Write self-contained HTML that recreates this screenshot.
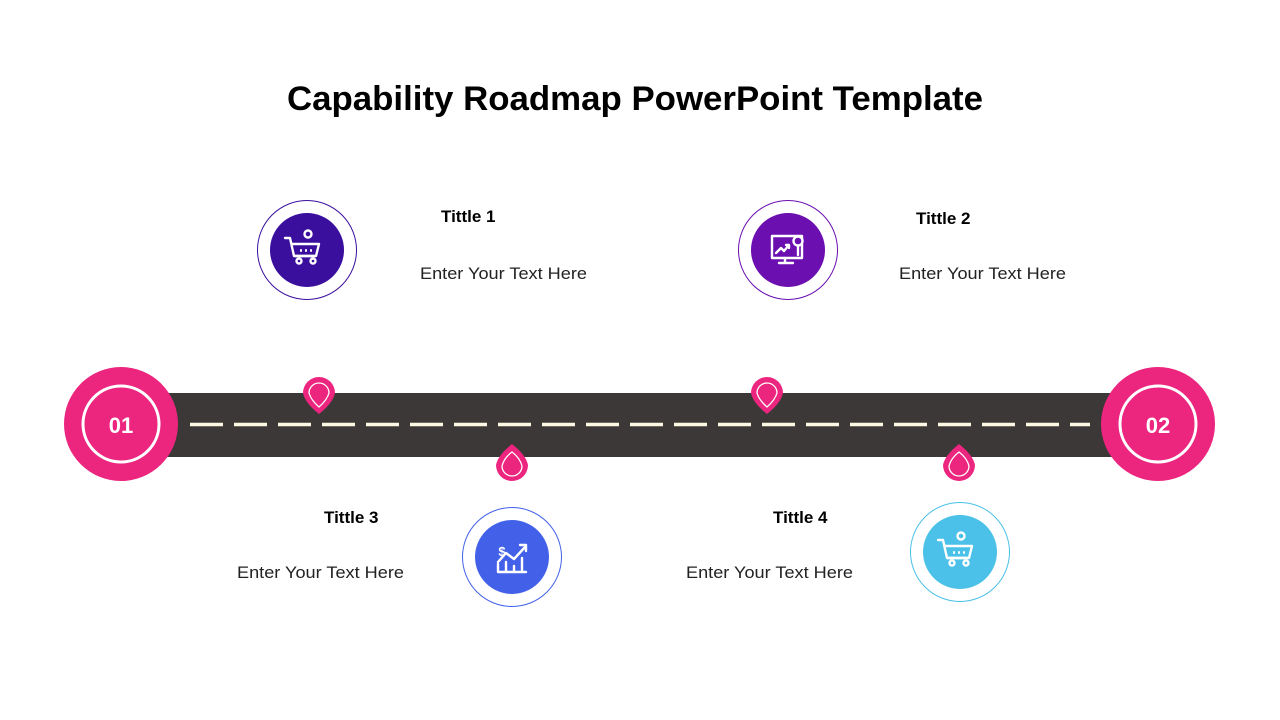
<!DOCTYPE html>
<html><head><meta charset="utf-8"><style>
html,body{margin:0;padding:0;background:#fff;}
svg{display:block;}
</style></head><body>
<svg width="1280" height="720" viewBox="0 0 1280 720" xmlns="http://www.w3.org/2000/svg" font-family="Liberation Sans, sans-serif">
<defs>
<clipPath id="dc"><rect x="185" y="410" width="905" height="30"/></clipPath>
</defs>
<text x="635" y="110" text-anchor="middle" font-size="34" font-weight="bold" fill="#000" textLength="696" lengthAdjust="spacingAndGlyphs">Capability Roadmap PowerPoint Template</text>

<rect x="160" y="393" width="960" height="64" fill="#3b3837"/>
<g clip-path="url(#dc)">
<line x1="190" y1="424.5" x2="1110" y2="424.5" stroke="#fdf8e4" stroke-width="3.5" stroke-dasharray="33 11"/>
</g>

<circle cx="121" cy="424" r="57" fill="#ec257f"/>
<circle cx="121" cy="424" r="38" fill="none" stroke="#fff" stroke-width="3"/>
<text x="121" y="433" text-anchor="middle" font-size="22" font-weight="bold" fill="#fff">01</text>
<circle cx="1158" cy="424" r="57" fill="#ec257f"/>
<circle cx="1158" cy="424" r="38" fill="none" stroke="#fff" stroke-width="3"/>
<text x="1158" y="433" text-anchor="middle" font-size="22" font-weight="bold" fill="#fff">02</text>

<g fill="#ec257f" stroke="none">
<path d="M303,393 A16,16 0 1 1 335,393 Q333,403 319,414 Q305,403 303,393Z"/>
<path d="M751,393 A16,16 0 1 1 783,393 Q781,403 767,414 Q753,403 751,393Z"/>
<path d="M496,465 A16,16 0 1 0 528,465 Q526,455 512,444 Q498,455 496,465Z"/>
<path d="M943,465 A16,16 0 1 0 975,465 Q973,455 959,444 Q945,455 943,465Z"/>
</g>
<g fill="none" stroke="#fff" stroke-width="1.3">
<path d="M309,393 A10,10 0 1 1 329,393 Q327,400 319,407 Q311,400 309,393Z"/>
<path d="M757,393 A10,10 0 1 1 777,393 Q775,400 767,407 Q759,400 757,393Z"/>
<path d="M502,466 A10,10 0 1 0 522,466 Q520,458 512,452 Q504,458 502,466Z"/>
<path d="M949,466 A10,10 0 1 0 969,466 Q967,458 959,452 Q951,458 949,466Z"/>
</g>

<circle cx="307" cy="250" r="49.5" fill="none" stroke="#3a0f9e" stroke-width="1"/>
<circle cx="307" cy="250" r="37" fill="#3a0f9e"/>
<circle cx="788" cy="250" r="49.5" fill="none" stroke="#6b0fb0" stroke-width="1"/>
<circle cx="788" cy="250" r="37" fill="#6b0fb0"/>
<circle cx="512" cy="557" r="49.5" fill="none" stroke="#4361e8" stroke-width="1"/>
<circle cx="512" cy="557" r="37" fill="#4361e8"/>
<circle cx="960" cy="552" r="49.5" fill="none" stroke="#4bc0e8" stroke-width="1"/>
<circle cx="960" cy="552" r="37" fill="#4bc0e8"/>

<g fill="none" stroke="#fff" stroke-width="2.4" stroke-linecap="round" stroke-linejoin="round">
<g transform="translate(307,250)">
<path d="M-22,-12 h5 l4,18 h20"/><path d="M-15,-6 h27 l-3,12 h-21"/>
<circle cx="-8" cy="11" r="2.5"/><circle cx="6" cy="11" r="2.5"/>
<circle cx="1" cy="-16" r="3.5"/>
<path d="M-6,0 v1 M-1,0 v1 M4,0 v1" stroke-width="2"/>
</g>
<g transform="translate(960,552)">
<path d="M-22,-12 h5 l4,18 h20"/><path d="M-15,-6 h27 l-3,12 h-21"/>
<circle cx="-8" cy="11" r="2.5"/><circle cx="6" cy="11" r="2.5"/>
<circle cx="1" cy="-16" r="3.5"/>
<path d="M-6,0 v1 M-1,0 v1 M4,0 v1" stroke-width="2"/>
</g>
<g transform="translate(788,250)">
<rect x="-16" y="-14" width="30" height="22"/>
<path d="M-3,8 v5 M-9,13 h14"/>
<path d="M-12,3 l5,-5 l3,3 l5,-6 M-2,-5 h3 v3"/>
<circle cx="10" cy="-9" r="4.5" fill="#6b0fb0"/><path d="M10,-4 v9"/>
</g>
<g transform="translate(512,557)">
<path d="M-14,15 h28 M-14,15 v-8 M-6,15 v-10 M2,15 v-6 M10,15 v-14"/>
<path d="M-14,5 l8,-9 l8,6 l12,-13 M8,-12 h6 v6"/>
</g>
</g>
<text x="502" y="556" text-anchor="middle" font-size="13" font-weight="bold" fill="#fff">$</text>

<g font-weight="bold" font-size="17" fill="#000">
<text x="441" y="222">Tittle 1</text>
<text x="916" y="224">Tittle 2</text>
<text x="324" y="523">Tittle 3</text>
<text x="773" y="523">Tittle 4</text>
</g>
<g font-size="16.5" fill="#222">
<text x="420" y="279" textLength="167" lengthAdjust="spacingAndGlyphs">Enter Your Text Here</text>
<text x="899" y="279" textLength="167" lengthAdjust="spacingAndGlyphs">Enter Your Text Here</text>
<text x="237" y="578" textLength="167" lengthAdjust="spacingAndGlyphs">Enter Your Text Here</text>
<text x="686" y="578" textLength="167" lengthAdjust="spacingAndGlyphs">Enter Your Text Here</text>
</g>
</svg>
</body></html>
